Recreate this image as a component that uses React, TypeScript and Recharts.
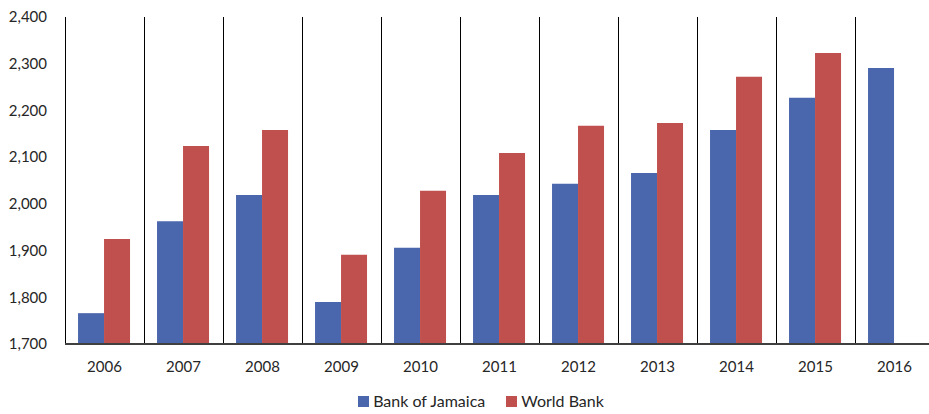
import { BarChart, Bar, XAxis, YAxis, CartesianGrid, Legend } from "recharts";

const years = ["2006", "2007", "2008", "2009", "2010", "2011", "2012", "2013", "2014", "2015", "2016"];
const bojValues = [1766, 1963, 2019, 1790, 1906, 2019, 2043, 2066, 2158, 2227, 2291];
const wbValues: (number | null)[] = [1925, 2124, 2158, 1891, 2028, 2109, 2167, 2173, 2272, 2323, null];
const yTicks = [1700, 1800, 1900, 2000, 2100, 2200, 2300, 2400];

const BLUE = "#4A66AC";
const RED = "#C0504D";
const FONT = "Lato, 'Open Sans', sans-serif";

const data = years.map((y, i) => ({ year: y, boj: bojValues[i], wb: wbValues[i] }));

// separators on the band edges (category axis has no padding, so bands split the plot evenly)
const bandEdges = (props: any) => {
    const { offset } = props;
    const step = offset.width / years.length;
    const edges = years.map((_, i) => Math.round(offset.left + i * step) + 0.5);
    edges.push(Math.round(offset.left + offset.width) + 0.5);
    return edges;
};

const LegendContent = () => (
    <div style={{ display: "flex", justifyContent: "center", gap: 21, paddingTop: 8, paddingLeft: 28, fontFamily: FONT, fontSize: 16, lineHeight: "18px", color: "#262626" }}>
        {[
            { name: "Bank of Jamaica", color: BLUE },
            { name: "World Bank", color: RED },
        ].map((it) => (
            <div key={it.name} style={{ display: "flex", alignItems: "center", gap: 4 }}>
                <span style={{ display: "inline-block", width: 11, height: 11, background: it.color }} />
                <span>{it.name}</span>
            </div>
        ))}
    </div>
);

export default function App() {
    return (
        <div style={{ position: "absolute", left: 0, top: 0, width: 929, height: 414, overflow: "hidden", background: "#fff" }}>
            <BarChart
                width={940}
                height={414}
                data={data}
                margin={{ top: 17, right: 6, left: 0, bottom: 0 }}
                barCategoryGap="16.5%"
                barGap={0}
                style={{ fontFamily: FONT }}
            >
                <CartesianGrid
                    horizontal={false}
                    vertical
                    verticalCoordinatesGenerator={bandEdges}
                    stroke="#000"
                    strokeWidth={1}
                />
                <XAxis
                    dataKey="year"
                    height={40}
                    tick={{ fill: "#262626", fontSize: 15 }}
                    tickLine={false}
                    axisLine={{ stroke: "#404040", strokeWidth: 2 }}
                    tickMargin={11}
                />
                <YAxis
                    width={65}
                    domain={[1700, 2400]}
                    ticks={yTicks}
                    tickFormatter={(v: number) => v.toLocaleString("en-US")}
                    tick={{ fill: "#262626", fontSize: 15 }}
                    axisLine={false}
                    tickLine={false}
                    tickMargin={12}
                />
                <Legend verticalAlign="bottom" height={30} content={<LegendContent />} />
                <Bar dataKey="boj" name="Bank of Jamaica" fill={BLUE} isAnimationActive={false} />
                <Bar dataKey="wb" name="World Bank" fill={RED} isAnimationActive={false} />
            </BarChart>
        </div>
    );
}
